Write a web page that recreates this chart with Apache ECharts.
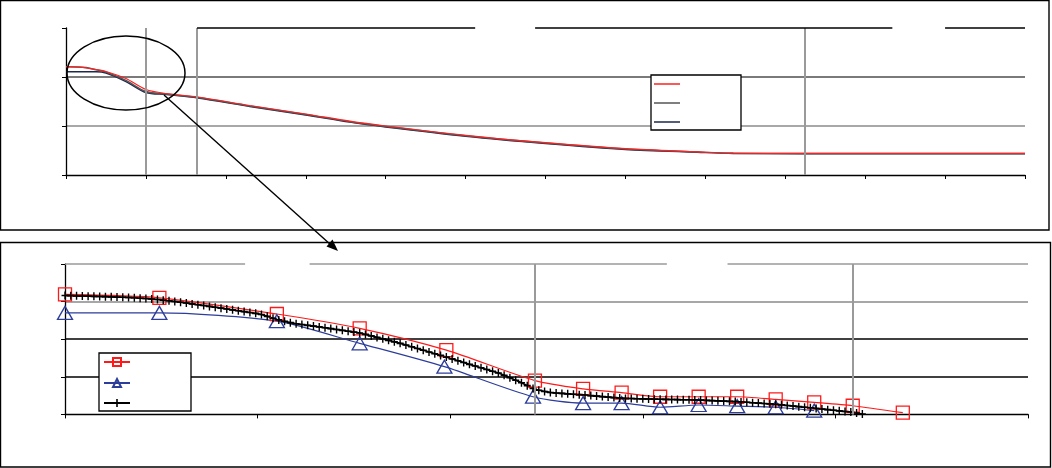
<!DOCTYPE html>
<html>
<head>
<meta charset="utf-8">
<script src="https://cdn.jsdelivr.net/npm/echarts@6/dist/echarts.min.js"></script>
<style>html,body{margin:0;padding:0;background:#fff}#c{width:1052px;height:468px}</style>
</head>
<body>
<div id="c"></div>
<script>
// ---- top panel (overview) ----
const topX     = [0, 0.25, 0.375, 0.5, 0.75, 1, 1.25, 1.65, 2.3, 3, 3.55, 4, 5, 6, 7, 7.9, 8.35, 9.2, 12];
const topRed   = [2.210, 2.188, 2.153, 2.112, 1.969, 1.745, 1.663, 1.592, 1.418, 1.245, 1.098, 1.000, 0.810, 0.659, 0.537, 0.473, 0.445, 0.443, 0.443];
const topGray  = [2.210, 2.194, 2.147, 2.102, 1.929, 1.704, 1.653, 1.582, 1.408, 1.235, 1.088, 0.990, 0.802, 0.653, 0.531, 0.469, 0.443, 0.439, 0.439];
const topNavy  = [2.108, 2.108, 2.108, 2.082, 1.908, 1.684, 1.643, 1.571, 1.398, 1.224, 1.078, 0.980, 0.792, 0.643, 0.520, 0.463, 0.439, 0.435, 0.435];
const topVLines = [1, 1.64, 9.24];
const topBreaks = [[1.64, 5.12], [5.87, 10.34], [11.0, 12]];

// ---- bottom panel (detail) ----
const botRedX  = [0, 0.49, 1.10, 1.53, 1.98, 2.44, 2.69, 2.89, 3.09, 3.29, 3.49, 3.69, 3.89, 4.09, 4.35];
const botRedY  = [3.19, 3.10, 2.67, 2.29, 1.71, 0.90, 0.68, 0.58, 0.47, 0.47, 0.47, 0.40, 0.32, 0.23, 0.045];
const botBlueX = [0, 0.49, 1.10, 1.53, 1.97, 2.43, 2.69, 2.89, 3.09, 3.29, 3.49, 3.69, 3.89];
const botBlueY = [2.70, 2.70, 2.48, 1.89, 1.27, 0.47, 0.30, 0.30, 0.19, 0.25, 0.22, 0.19, 0.10];
const botBlackX = [
0,0.03,0.06,0.09,0.12,0.15,0.18,0.21,0.24,0.27,
0.3,0.33,0.36,0.39,0.42,0.45,0.48,0.51,0.54,0.57,
0.6,0.63,0.66,0.69,0.72,0.75,0.78,0.81,0.84,0.87,
0.9,0.93,0.96,0.99,1.02,1.05,1.08,1.11,1.14,1.17,
1.2,1.23,1.26,1.29,1.32,1.35,1.38,1.41,1.44,1.47,
1.5,1.53,1.56,1.59,1.62,1.65,1.68,1.71,1.74,1.77,
1.8,1.83,1.86,1.89,1.92,1.95,1.98,2.01,2.04,2.07,
2.1,2.13,2.16,2.19,2.22,2.25,2.28,2.31,2.34,2.37,
2.4,2.43,2.46,2.49,2.52,2.55,2.58,2.61,2.64,2.67,
2.7,2.73,2.76,2.79,2.82,2.85,2.88,2.91,2.94,2.97,
3.0,3.03,3.06,3.09,3.12,3.15,3.18,3.21,3.24,3.27,
3.3,3.33,3.36,3.39,3.42,3.45,3.48,3.51,3.54,3.57,
3.6,3.63,3.66,3.69,3.72,3.75,3.78,3.81,3.84,3.87,
3.9,3.93,3.96,3.99,4.02,4.05,4.08,4.11,4.14];
const botBlackY = [
3.162,3.158,3.153,3.149,3.145,3.140,3.136,3.131,3.126,3.120,
3.115,3.110,3.102,3.091,3.081,3.071,3.056,3.038,3.021,3.003,
2.982,2.961,2.939,2.918,2.895,2.872,2.849,2.826,2.803,2.780,
2.757,2.734,2.710,2.687,2.658,2.608,2.558,2.513,2.476,2.440,
2.411,2.390,2.369,2.348,2.327,2.305,2.282,2.259,2.236,2.213,
2.189,2.166,2.128,2.088,2.048,2.009,1.969,1.930,1.890,1.844,
1.798,1.752,1.707,1.661,1.615,1.569,1.524,1.476,1.428,1.380,
1.331,1.286,1.239,1.193,1.147,1.101,1.041,0.976,0.910,0.842,
0.765,0.689,0.642,0.611,0.582,0.570,0.559,0.547,0.536,0.525,
0.514,0.500,0.487,0.473,0.460,0.447,0.434,0.426,0.422,0.418,
0.414,0.410,0.406,0.402,0.399,0.396,0.393,0.390,0.388,0.385,
0.380,0.373,0.367,0.360,0.354,0.347,0.341,0.332,0.322,0.311,
0.301,0.290,0.280,0.269,0.254,0.238,0.222,0.206,0.191,0.175,
0.159,0.143,0.126,0.110,0.094,0.078,0.062,0.037,0.011];
const botVLines = [2.44, 4.09];
const botBreaks = [[0, 0.935], [1.27, 3.125], [3.44, 5]];

const zip = (xs, ys) => xs.map((x, i) => [x, ys[i]]);
const PLUS = 'path://M4,0H6V4H10V6H6V10H4V6H0V4H4Z';
// plain line legend icon (tiny corner dots keep the 26x10 box so the bar stays thin)
const LINE_ICON = 'path://M0,0h0.05v0.05h-0.05z M0,9.95h0.05v0.05h-0.05z M0,4.35H26V5.65H0Z';

function refLines(vLines, vMax, breaks, breakY, breakColor) {
  const d = [];
  vLines.forEach(v => d.push([{coord: [v, 0], lineStyle: {color: '#9a9a9a', width: 2, type: 'solid'}}, {coord: [v, vMax]}]));
  breaks.forEach(b => d.push([{coord: [b[0], breakY], lineStyle: {color: breakColor, width: 1.6, type: 'solid'}}, {coord: [b[1], breakY]}]));
  return {silent: true, symbol: ['none', 'none'], label: {show: false}, emphasis: {disabled: true}, animation: false, data: d};
}

const axisCommon = {
  axisLabel: {show: false},
  axisLine: {show: true, lineStyle: {color: '#000', width: 1.3}},
  axisTick: {show: true, length: 4, lineStyle: {color: '#000', width: 1}}
};

const chart = echarts.init(document.getElementById('c'), null, {renderer: 'canvas'});
chart.setOption({
  animation: false,
  backgroundColor: '#fff',
  grid: [
    {left: 66, top: 28, right: 27, bottom: 293},
    {left: 65, top: 264, right: 24, bottom: 53.6}
  ],
  xAxis: [
    Object.assign({type: 'value', gridIndex: 0, min: 0, max: 12, interval: 1, splitLine: {show: false}}, axisCommon),
    Object.assign({type: 'value', gridIndex: 1, min: 0, max: 5, interval: 1, splitLine: {show: false}}, axisCommon)
  ],
  yAxis: [
    Object.assign({type: 'value', gridIndex: 0, min: 0, max: 3, interval: 1,
      splitLine: {show: true, lineStyle: {color: ['rgba(0,0,0,0)', '#a8a8a8', '#7a7a7a', 'rgba(0,0,0,0)'], width: 2}}}, axisCommon),
    Object.assign({type: 'value', gridIndex: 1, min: 0, max: 4, interval: 1,
      splitLine: {show: true, lineStyle: {color: ['rgba(0,0,0,0)', '#000', '#000', '#8a8a8a', 'rgba(0,0,0,0)'], width: 1.6}}}, axisCommon)
  ],
  legend: [
    {data: [{name: 't1', icon: LINE_ICON}, {name: 't2', icon: LINE_ICON}, {name: 't3', icon: LINE_ICON}],
     orient: 'vertical', left: 651, top: 75, itemWidth: 26, itemHeight: 10, itemGap: 9,
     padding: [4, 56, 3, 3], borderColor: '#000', borderWidth: 1.3, backgroundColor: '#fff',
     formatter: () => '', textStyle: {fontSize: 10, lineHeight: 10}, selectedMode: false},
    {data: ['b1', 'b2', 'b3'], orient: 'vertical', left: 99, top: 353, itemWidth: 26, itemHeight: 10, itemGap: 11,
     padding: [4, 56, 4, 4], borderColor: '#000', borderWidth: 1.3, backgroundColor: '#fff',
     formatter: () => '', textStyle: {fontSize: 10, lineHeight: 10}, selectedMode: false}
  ],
  series: [
    {name: 't3', type: 'line', xAxisIndex: 0, yAxisIndex: 0, data: zip(topX, topNavy), showSymbol: false, symbol: 'none', smooth: 0.3,
     lineStyle: {color: '#1c2a4e', width: 1.4}, itemStyle: {color: '#1c2a4e'},
     markLine: refLines(topVLines, 3, topBreaks, 3, '#000')},
    {name: 't2', type: 'line', xAxisIndex: 0, yAxisIndex: 0, data: zip(topX, topGray), showSymbol: false, symbol: 'none', smooth: 0.3,
     lineStyle: {color: '#555', width: 1.4}, itemStyle: {color: '#555'}},
    {name: 't1', type: 'line', xAxisIndex: 0, yAxisIndex: 0, data: zip(topX, topRed), showSymbol: false, symbol: 'none', smooth: 0.3,
     lineStyle: {color: '#ff2020', width: 1.2}, itemStyle: {color: '#ff2020'}},
    {name: 'b1', type: 'line', xAxisIndex: 1, yAxisIndex: 1, data: zip(botRedX, botRedY), symbol: 'rect', symbolSize: 13, smooth: 0.25,
     lineStyle: {color: '#ff1a1a', width: 1.2}, itemStyle: {color: 'rgba(255,255,255,0)', borderColor: '#ff1a1a', borderWidth: 1.3},
     markLine: refLines(botVLines, 4, botBreaks, 4, '#9a9a9a')},
    {name: 'b2', type: 'line', xAxisIndex: 1, yAxisIndex: 1, data: zip(botBlueX, botBlueY), symbol: 'triangle', symbolSize: [15, 13], smooth: 0.25,
     lineStyle: {color: '#2c3d9a', width: 1.2}, itemStyle: {color: 'rgba(255,255,255,0)', borderColor: '#2c3d9a', borderWidth: 1.3}},
    {name: 'b3', type: 'line', xAxisIndex: 1, yAxisIndex: 1, data: zip(botBlackX, botBlackY), symbol: PLUS, symbolSize: [7, 8], smooth: 0.2,
     lineStyle: {color: '#000', width: 1.6}, itemStyle: {color: '#000'}}
  ],
  graphic: [
    {type: 'rect', shape: {x: 0.5, y: 0.5, width: 1048.5, height: 229.5}, style: {fill: 'none', stroke: '#000', lineWidth: 1.4}, z: 100, silent: true},
    {type: 'rect', shape: {x: 0.5, y: 242.5, width: 1050, height: 224.5}, style: {fill: 'none', stroke: '#000', lineWidth: 1.4}, z: 100, silent: true},
    {type: 'ellipse', shape: {cx: 126, cy: 73, rx: 59, ry: 37}, style: {fill: 'none', stroke: '#000', lineWidth: 1.5}, z: 100, silent: true},
    {type: 'line', shape: {x1: 164, y1: 95, x2: 331, y2: 245}, style: {stroke: '#000', lineWidth: 1.4}, z: 100, silent: true},
    {type: 'polygon', shape: {points: [[338, 251], [326.5, 246.5], [332.5, 239.5]]}, style: {fill: '#000'}, z: 100, silent: true}
  ]
});
</script>
</body>
</html>
